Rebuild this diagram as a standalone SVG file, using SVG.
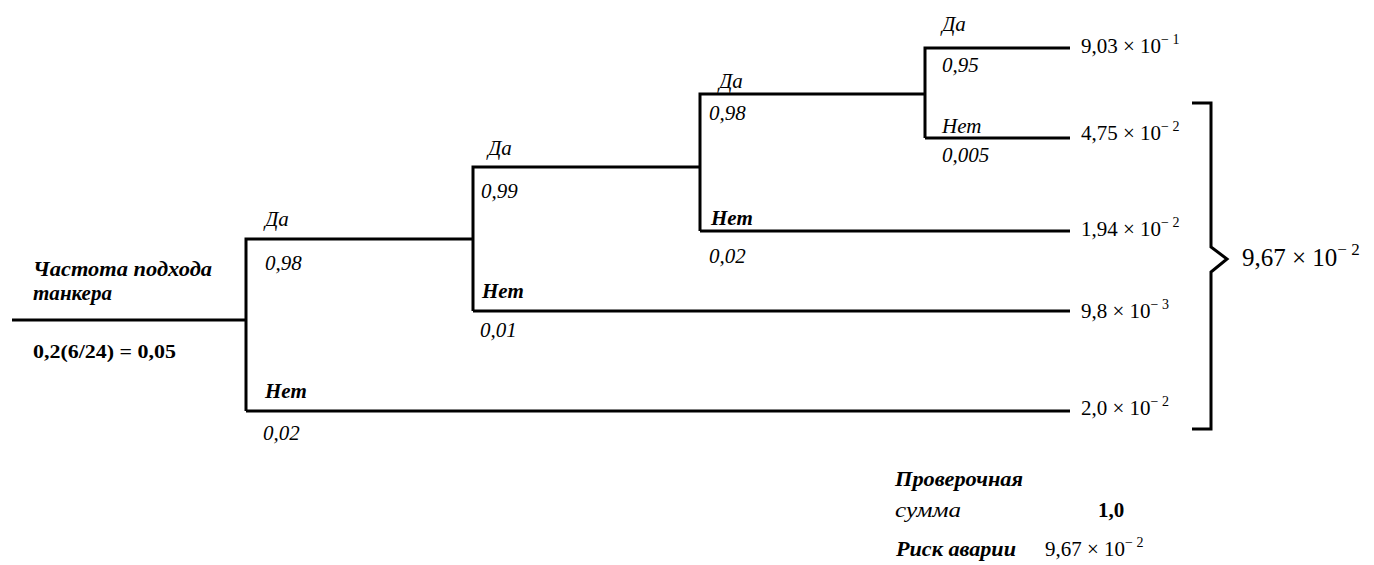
<svg xmlns="http://www.w3.org/2000/svg" width="1374" height="565" viewBox="0 0 1374 565">
<style>
.ln{stroke:#000;stroke-width:3;fill:none}
text{font-family:"Liberation Serif","DejaVu Serif",serif;fill:#000}
.lb{font-size:21px;font-style:italic}
.lbb{font-size:21px;font-style:italic;font-weight:bold}
.v{font-size:21px}
.sup{font-size:14px}
</style>
<rect width="1374" height="565" fill="#fff"/>
<g id="connectors">
<path class="ln" d="M12 320H246"/>
<path class="ln" d="M246 411V239H473M246 411H1070"/>
<path class="ln" d="M473 311V167H700M473 311H1070"/>
<path class="ln" d="M700 231V94H925M700 231H1070"/>
<path class="ln" d="M925 138V48H1070M925 138H1070"/>
<path class="ln" d="M1192 103H1211V247L1227 259L1211 272V429H1192" stroke-width="4"/>
</g>
<g id="root">
<text class="lbb" x="33" y="276" textLength="179" lengthAdjust="spacingAndGlyphs">Частота подхода</text>
<text class="lbb" x="33" y="300" textLength="79" lengthAdjust="spacingAndGlyphs">танкера</text>
<text x="33" y="358" font-size="19" font-weight="bold" textLength="143" lengthAdjust="spacingAndGlyphs">0,2(6/24) = 0,05</text>
</g>
<g id="n1">
<text class="lb" x="265" y="226">Да</text>
<text class="lb" x="265" y="270">0,98</text>
<text class="lbb" x="265" y="398">Нет</text>
<text class="lb" x="263" y="440">0,02</text>
</g>
<g id="n2">
<text class="lb" x="488" y="155">Да</text>
<text class="lb" x="481" y="198">0,99</text>
<text class="lbb" x="482" y="298">Нет</text>
<text class="lb" x="480" y="337">0,01</text>
</g>
<g id="n3">
<text class="lb" x="719" y="88">Да</text>
<text class="lb" x="709" y="120">0,98</text>
<text class="lbb" x="711" y="225">Нет</text>
<text class="lb" x="709" y="263">0,02</text>
</g>
<g id="n4">
<text class="lb" x="942" y="31">Да</text>
<text class="lb" x="942" y="72">0,95</text>
<text class="lb" x="942" y="133">Нет</text>
<text class="lb" x="942" y="162">0,005</text>
</g>
<g id="outcomes">
<text class="v" x="1081" y="53">9,03 × 10<tspan class="sup" dy="-9">− 1</tspan></text>
<text class="v" x="1081" y="140">4,75 × 10<tspan class="sup" dy="-9">− 2</tspan></text>
<text class="v" x="1081" y="236">1,94 × 10<tspan class="sup" dy="-9">− 2</tspan></text>
<text class="v" x="1081" y="318">9,8 × 10<tspan class="sup" dy="-9">− 3</tspan></text>
<text class="v" x="1081" y="415">2,0 × 10<tspan class="sup" dy="-9">− 2</tspan></text>
</g>
<g id="total">
<text x="1242" y="266" font-size="25">9,67 × 10<tspan font-size="17" dy="-11">− 2</tspan></text>
</g>
<g id="summary">
<text class="lbb" x="895" y="486" textLength="128" lengthAdjust="spacingAndGlyphs">Проверочная</text>
<text class="lb" x="895" y="517" textLength="66" lengthAdjust="spacingAndGlyphs">сумма</text>
<text x="1098" y="517" font-size="21" font-weight="bold">1,0</text>
<text class="lbb" x="896" y="556" textLength="120" lengthAdjust="spacingAndGlyphs">Риск аварии</text>
<text x="1045" y="556" font-size="21">9,67 × 10<tspan class="sup" dy="-9">− 2</tspan></text>
</g>
</svg>
